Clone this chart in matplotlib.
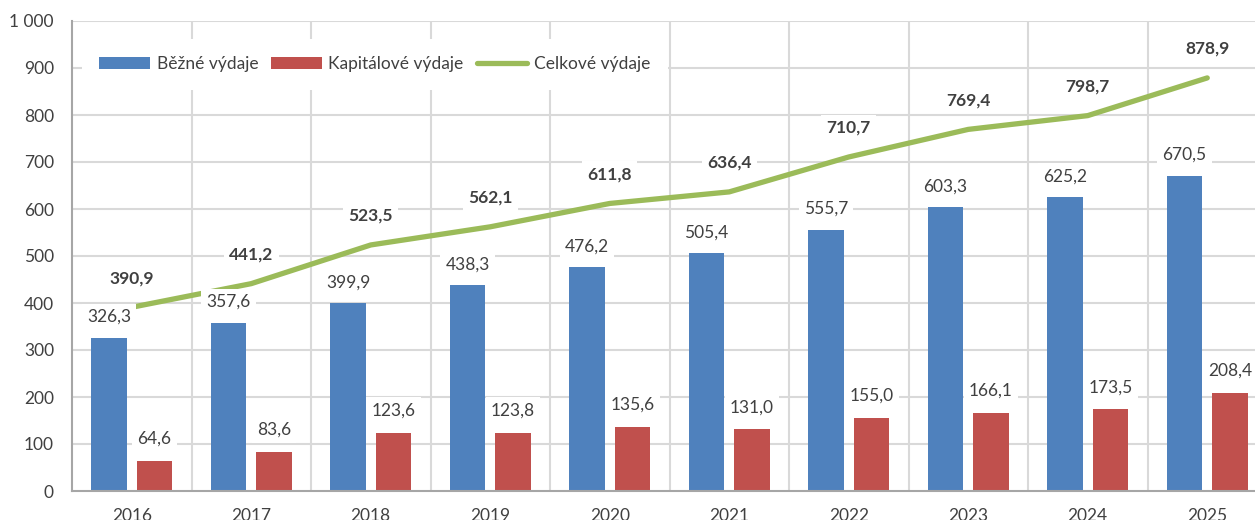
import matplotlib.pyplot as plt
import numpy as np
from matplotlib.ticker import FuncFormatter

# data
roky = ['2016', '2017', '2018', '2019', '2020', '2021', '2022', '2023', '2024', '2025']
bezne = [326.3, 357.6, 399.9, 438.3, 476.2, 505.4, 555.7, 603.3, 625.2, 670.5]
kapitalove = [64.6, 83.6, 123.6, 123.8, 135.6, 131.0, 155.0, 166.1, 173.5, 208.4]
celkove = [390.9, 441.2, 523.5, 562.1, 611.8, 636.4, 710.7, 769.4, 798.7, 878.9]

plt.rcParams['font.family'] = ['Lato', 'DejaVu Sans']
txt = '#404040'
blue = '#4F81BD'
red = '#C0504D'
green = '#9BBB59'
grid = '#D9D9D9'

def cz(v):
    return f'{v:.1f}'.replace('.', ',')

fig = plt.figure(figsize=(12.55, 5.2), dpi=100)
ax = fig.add_axes([72 / 1255, 29 / 520, 1195 / 1255, 470 / 520])

x = np.arange(len(roky))
w = 0.3
off = 0.19

# gridlines
for k in np.arange(0.5, len(roky), 1.0):
    ax.axvline(k, color=grid, lw=1.5, zorder=0)
for yv in range(100, 1001, 100):
    ax.axhline(yv, color=grid, lw=1.5, zorder=0)

b1 = ax.bar(x - off, bezne, w, color=blue, zorder=2, label='Běžné výdaje')
b2 = ax.bar(x + off, kapitalove, w, color=red, zorder=2, label='Kapitálové výdaje')
l1, = ax.plot(x, celkove, color=green, lw=3.8, solid_capstyle='round',
              solid_joinstyle='round', zorder=3, label='Celkové výdaje')

box = dict(boxstyle='square,pad=0.3', fc='white', ec='none')
for i in range(len(roky)):
    ax.annotate(cz(bezne[i]), (x[i] - off, bezne[i]), xytext=(0, 15),
                textcoords='offset points', ha='center', va='center',
                fontsize=12.5, color=txt, bbox=box, zorder=5)
    ax.annotate(cz(kapitalove[i]), (x[i] + off, kapitalove[i]), xytext=(0, 16),
                textcoords='offset points', ha='center', va='center',
                fontsize=12.5, color=txt, bbox=box, zorder=5)
    ax.annotate(cz(celkove[i]), (x[i], celkove[i]), xytext=(0, 21),
                textcoords='offset points', ha='center', va='center',
                fontsize=12.5, fontweight='bold', color=txt, bbox=box, zorder=5)

ax.set_xlim(-0.5, len(roky) - 0.5)
ax.set_ylim(0, 1000)
ax.set_yticks(range(0, 1001, 100))
ax.yaxis.set_major_formatter(FuncFormatter(lambda v, p: f'{int(v):,}'.replace(',', ' ')))
ax.set_xticks(x)
ax.set_xticklabels(roky)
ax.tick_params(axis='both', length=0, labelsize=12.5, labelcolor=txt)
ax.tick_params(axis='y', pad=13)
ax.tick_params(axis='x', pad=12)

for s in ['top', 'right']:
    ax.spines[s].set_visible(False)
ax.spines['left'].set_color('#A6A6A6')
ax.spines['left'].set_linewidth(1.5)
ax.spines['bottom'].set_color('#A6A6A6')
ax.spines['bottom'].set_linewidth(1.5)

leg = ax.legend(handles=[b1, b2, l1], loc='upper left', bbox_to_anchor=(0.001, 0.98), ncol=3,
                frameon=True, fancybox=False, facecolor='white', edgecolor='none',
                framealpha=1, fontsize=12.5, handlelength=2.9, handletextpad=0.4,
                columnspacing=0.75, borderpad=1.0)
for t in leg.get_texts():
    t.set_color(txt)
leg.set_zorder(6)

fig.savefig('out.png', dpi=100)
